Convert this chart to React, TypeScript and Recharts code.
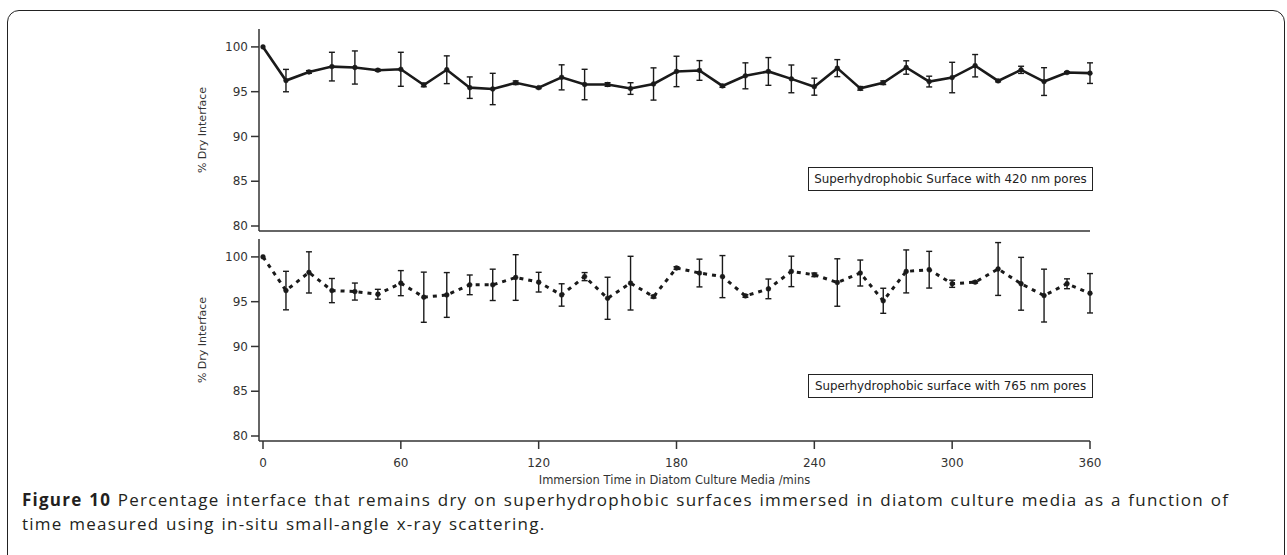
import React from 'react';
import { LineChart, Line, XAxis, YAxis, ErrorBar } from 'recharts';

const times = [0, 10, 20, 30, 40, 50, 60, 70, 80, 90, 100, 110, 120, 130, 140, 150, 160, 170, 180, 190, 200, 210, 220, 230, 240, 250, 260, 270, 280, 290, 300, 310, 320, 330, 340, 350, 360];

const dry420 = [100.0, 96.24, 97.2, 97.8, 97.7, 97.4, 97.5, 95.75, 97.45, 95.45, 95.3, 96.0, 95.45, 96.6, 95.8, 95.8, 95.35, 95.86, 97.26, 97.37, 95.64, 96.77, 97.26, 96.43, 95.56, 97.63, 95.37, 96.0, 97.7, 96.13, 96.58, 97.9, 96.2, 97.44, 96.13, 97.14, 97.07];
const err420 = [0, 1.25, 0.15, 1.6, 1.85, 0.1, 1.9, 0.2, 1.55, 1.2, 1.75, 0.2, 0.1, 1.4, 1.7, 0.2, 0.65, 1.8, 1.7, 1.1, 0.15, 1.45, 1.55, 1.55, 0.95, 0.95, 0.2, 0.2, 0.75, 0.6, 1.7, 1.25, 0.1, 0.4, 1.55, 0.1, 1.15];

const dry765 = [100.0, 96.24, 98.27, 96.24, 96.13, 95.83, 97.07, 95.5, 95.75, 96.88, 96.88, 97.7, 97.18, 95.75, 97.8, 95.38, 97.07, 95.56, 98.76, 98.2, 97.8, 95.64, 96.43, 98.38, 98.0, 97.14, 98.2, 95.1, 98.38, 98.57, 97.0, 97.18, 98.65, 97.0, 95.68, 97.0, 95.94];
const err765 = [0, 2.15, 2.3, 1.35, 0.95, 0.55, 1.4, 2.8, 2.5, 1.1, 1.75, 2.55, 1.1, 1.25, 0.45, 2.35, 3.0, 0.15, 0.15, 1.55, 2.35, 0.15, 1.1, 1.7, 0.2, 2.65, 1.45, 1.4, 2.4, 2.05, 0.4, 0.1, 2.95, 2.95, 2.95, 0.55, 2.2];

const xTicks = [0, 60, 120, 180, 240, 300, 360];
const yTicks = [80, 85, 90, 95, 100];

const label420 = 'Superhydrophobic Surface with 420 nm pores';
const label765 = 'Superhydrophobic surface with 765 nm pores';
const yTitle = '% Dry Interface';
const xTitle = 'Immersion Time in Diatom Culture Media /mins';
const captionBold = 'Figure 10';
const captionLine1 = ' Percentage interface that remains dry on superhydrophobic surfaces immersed in diatom culture media as a function of';
const captionLine2 = 'time measured using in-situ small-angle x-ray scattering.';

const data420 = times.map((t, i) => ({ t, v: dry420[i], e: err420[i] }));
const data765 = times.map((t, i) => ({ t, v: dry765[i], e: err765[i] }));

const FONT = '"DejaVu Sans", sans-serif';
const INK = '#1a1a1a';
const AX = '#333';
const tickStyle = { fill: AX, fontSize: 12, fontFamily: FONT };

const legendBox: React.CSSProperties = {
  position: 'absolute',
  left: 808,
  width: 285,
  height: 24,
  border: '1px solid #222',
  boxSizing: 'border-box',
  fontFamily: FONT,
  fontSize: 11.9,
  color: '#222',
  display: 'flex',
  alignItems: 'center',
  justifyContent: 'center',
  whiteSpace: 'nowrap',
  background: '#fff',
};

const captionLine: React.CSSProperties = {
  whiteSpace: 'nowrap',
  letterSpacing: 1.25,
  wordSpacing: 1,
};

export default function App() {
  return (
    <div style={{ position: 'absolute', left: 0, top: 0, width: 1287, height: 555, overflow: 'hidden', background: '#fff' }}>
      <div style={{ position: 'absolute', left: 7, top: 10, width: 1278, height: 620, border: '1.5px solid #222', borderRadius: 12, boxSizing: 'border-box' }} />

      <div style={{ position: 'absolute', left: 0, top: 0 }}>
        <LineChart width={1287} height={260} data={data420} margin={{ top: 29, right: 197, bottom: 19, left: 199 }}>
          <XAxis
            type="number"
            dataKey="t"
            domain={[0, 360]}
            ticks={xTicks}
            padding={{ left: 4, right: 0 }}
            tick={false}
            tickSize={7}
            height={10}
            axisLine={{ stroke: AX, strokeWidth: 1.5 }}
            tickLine={{ stroke: AX, strokeWidth: 1.5 }}
          />
          <YAxis
            type="number"
            domain={[80, 102]}
            ticks={yTicks}
            padding={{ top: 0, bottom: 5 }}
            width={60}
            tickSize={8}
            tickMargin={3}
            tick={tickStyle}
            axisLine={{ stroke: AX, strokeWidth: 1.5 }}
            tickLine={{ stroke: AX, strokeWidth: 1.5 }}
            label={{ value: yTitle, angle: -90, position: 'insideLeft', offset: 3, style: { textAnchor: 'middle', fontSize: 11, fontFamily: FONT, fill: AX } }}
          />
          <Line
            dataKey="v"
            stroke={INK}
            strokeWidth={2.6}
            dot={{ r: 2.4, fill: INK, stroke: INK, strokeWidth: 0.5 }}
            isAnimationActive={false}
          >
            <ErrorBar dataKey="e" width={3} stroke={INK} strokeWidth={1.4} direction="y" isAnimationActive={false} />
          </Line>
        </LineChart>
      </div>

      <div style={{ position: 'absolute', left: 0, top: 0 }}>
        <LineChart width={1287} height={555} data={data765} margin={{ top: 239, right: 197, bottom: 64, left: 199 }}>
          <XAxis
            type="number"
            dataKey="t"
            domain={[0, 360]}
            ticks={xTicks}
            padding={{ left: 4, right: 0 }}
            tickSize={8}
            tickMargin={9}
            tick={tickStyle}
            height={50}
            axisLine={{ stroke: AX, strokeWidth: 1.5 }}
            tickLine={{ stroke: AX, strokeWidth: 1.5 }}
            label={{ value: xTitle, position: 'insideBottom', offset: 7, style: { fontSize: 11.5, fontFamily: FONT, fill: AX } }}
          />
          <YAxis
            type="number"
            domain={[80, 102]}
            ticks={yTicks}
            padding={{ top: 0, bottom: 5 }}
            width={60}
            tickSize={8}
            tickMargin={3}
            tick={tickStyle}
            axisLine={{ stroke: AX, strokeWidth: 1.5 }}
            tickLine={{ stroke: AX, strokeWidth: 1.5 }}
            label={{ value: yTitle, angle: -90, position: 'insideLeft', offset: 3, style: { textAnchor: 'middle', fontSize: 11, fontFamily: FONT, fill: AX } }}
          />
          <Line
            dataKey="v"
            stroke={INK}
            strokeWidth={3}
            strokeDasharray="4 5"
            dot={{ r: 2.4, fill: INK, stroke: INK, strokeWidth: 0.5, strokeDasharray: '' }}
            isAnimationActive={false}
          >
            <ErrorBar dataKey="e" width={3} stroke={INK} strokeWidth={1.4} direction="y" isAnimationActive={false} />
          </Line>
        </LineChart>
      </div>

      <div style={{ ...legendBox, top: 167 }}>{label420}</div>
      <div style={{ ...legendBox, top: 374 }}>{label765}</div>

      <div style={{ position: 'absolute', left: 22, top: 488, fontFamily: '"Open Sans", sans-serif', fontSize: 17, lineHeight: '23.5px', color: '#231f20' }}>
        <div style={captionLine}>
          <span style={{ fontWeight: 700 }}>{captionBold}</span>
          <span>{captionLine1}</span>
        </div>
        <div style={captionLine}>{captionLine2}</div>
      </div>
    </div>
  );
}
